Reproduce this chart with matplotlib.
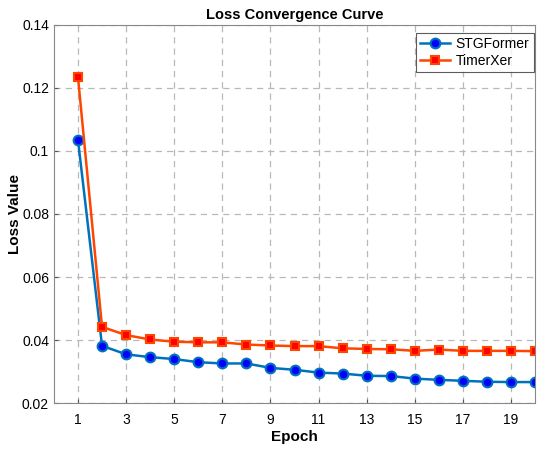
import numpy as np
from matplotlib import pyplot as plt

plt.rcParams['font.family'] = ['Liberation Sans', 'DejaVu Sans']

epochs = np.arange(1, 21)
stgformer = [0.1035, 0.0382, 0.0355, 0.0346, 0.0340, 0.0330, 0.0326, 0.0326, 0.0312, 0.0306,
             0.0297, 0.0294, 0.0287, 0.0286, 0.0278, 0.0274, 0.0271, 0.0268, 0.0267, 0.0267]
timerxer = [0.1235, 0.0442, 0.0416, 0.0402, 0.0395, 0.0393, 0.0393, 0.0386, 0.0383, 0.0381,
            0.0381, 0.0374, 0.0372, 0.0371, 0.0366, 0.0370, 0.0366, 0.0366, 0.0366, 0.0365]
xticks = [1, 3, 5, 7, 9, 11, 13, 15, 17, 19]
yticks = [0.02, 0.04, 0.06, 0.08, 0.1, 0.12, 0.14]
ytick_labels = ['0.02', '0.04', '0.06', '0.08', '0.1', '0.12', '0.14']

fig = plt.figure(figsize=(5.5, 4.51), dpi=100)
ax = fig.add_axes([0.098, 0.106, 0.875, 0.839])

ax.plot(epochs, stgformer, color='#0072BD', lw=1.8, marker='o', ms=7,
        mfc='#0000FF', mec='#0072BD', mew=1.5, label='STGFormer')
ax.plot(epochs, timerxer, color='#FF4500', lw=1.8, marker='s', ms=6,
        mfc='#FF0000', mec='#FF4500', mew=1.5, label='TimerXer')

ax.set_xlim(0, 20)
ax.set_ylim(0.02, 0.14)
ax.set_xticks(xticks)
ax.set_yticks(yticks)
ax.set_yticklabels(ytick_labels)
ax.tick_params(labelsize=10, direction='in', length=3, color='#555555')
ax.tick_params(axis='x', pad=7)
ax.grid(True, ls=(0, (5, 4)), color='#b8b8b8', lw=0.9)
for s in ax.spines.values():
    s.set_color('#888888')

ax.set_title('Loss Convergence Curve', fontsize=10.5, fontweight='bold', pad=4)
ax.set_xlabel('Epoch', fontsize=11, fontweight='bold', labelpad=2)
ax.set_ylabel('Loss Value', fontsize=11, fontweight='bold', labelpad=0)

leg = ax.legend(loc='upper right', bbox_to_anchor=(0.997, 0.979), borderaxespad=0,
                fontsize=10, fancybox=False, handlelength=2.2,
                borderpad=0.3, labelspacing=0.2, handletextpad=0.4)
leg.get_frame().set_edgecolor('#333333')
leg.get_frame().set_linewidth(0.8)

fig.savefig('out.png', dpi=100)
